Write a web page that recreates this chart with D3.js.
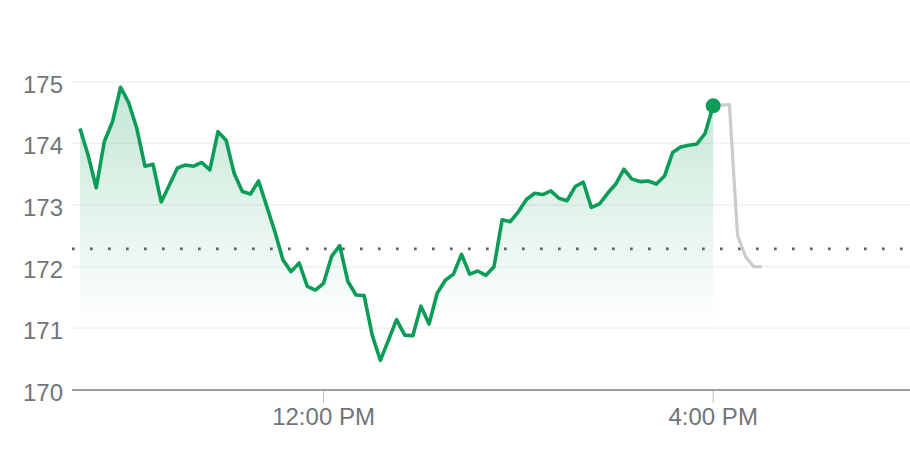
<!DOCTYPE html>
<html>
<head>
<meta charset="utf-8">
<script src="https://cdn.jsdelivr.net/npm/d3@7"></script>
<style>
  html, body { margin: 0; padding: 0; background: #fff; }
  svg { display: block; font-family: Arial, "Liberation Sans", sans-serif; }
</style>
</head>
<body>
<svg id="chart" width="910" height="460"></svg>
<script>
// ---- data (5-minute intervals) ----
const sessionStart = "09:30";
const stepMinutes = 5;
const regularValues = [
  174.24, 173.81, 173.28, 174.03, 174.35, 174.91, 174.66, 174.24, 173.63, 173.66,
  173.05, 173.32, 173.60, 173.65, 173.63, 173.69, 173.57, 174.19, 174.05, 173.51,
  173.22, 173.18, 173.39, 172.98, 172.57, 172.11, 171.92, 172.06, 171.68, 171.62,
  171.73, 172.17, 172.34, 171.76, 171.54, 171.53, 170.89, 170.48, 170.81, 171.14,
  170.89, 170.88, 171.36, 171.07, 171.57, 171.78, 171.88, 172.20, 171.88, 171.93,
  171.86, 172.00, 172.76, 172.73, 172.89, 173.09, 173.19, 173.17, 173.23, 173.11,
  173.07, 173.30, 173.37, 172.96, 173.02, 173.19, 173.34, 173.58, 173.42, 173.38,
  173.39, 173.34, 173.47, 173.85, 173.94, 173.97, 173.99, 174.16, 174.61
];
const afterHoursStart = "16:00";
const afterHoursValues = [174.61, 174.62, 174.63, 172.51, 172.16, 172.00, 172.00];
const previousClose = 172.29;
const yTicks = [170, 171, 172, 173, 174, 175];
const xTickTimes = ["12:00", "16:00"];
const xDomainTimes = ["09:30", "18:00"];

// ---- helpers ----
const parseT = d3.timeParse("%H:%M");
function series(start, vals) {
  const t0 = parseT(start);
  return vals.map((v, i) => ({ t: d3.timeMinute.offset(t0, i * stepMinutes), v }));
}
const regular = series(sessionStart, regularValues);
const after = series(afterHoursStart, afterHoursValues);

const svg = d3.select("#chart");
const gridLeft = 72, gridRight = 910;

const x = d3.scaleTime()
  .domain(xDomainTimes.map(parseT))
  .range([80, 908]);
const y = d3.scaleLinear()
  .domain([170, 175])
  .range([390, 81.7]);

// gradient
const defs = svg.append("defs");
const grad = defs.append("linearGradient")
  .attr("id", "fillGrad")
  .attr("gradientUnits", "userSpaceOnUse")
  .attr("x1", 0).attr("x2", 0)
  .attr("y1", y(d3.max(regularValues))).attr("y2", 326);
grad.append("stop").attr("offset", "0%").attr("stop-color", "#0f9d58").attr("stop-opacity", 0.25);
grad.append("stop").attr("offset", "100%").attr("stop-color", "#0f9d58").attr("stop-opacity", 0.0);

// grid lines
svg.append("g").selectAll("line")
  .data(yTicks.filter(d => d !== 170))
  .join("line")
  .attr("x1", gridLeft).attr("x2", gridRight)
  .attr("y1", d => y(d)).attr("y2", d => y(d))
  .attr("stroke", "#f1f1f1")
  .attr("stroke-width", 1.5);

// y labels
svg.append("g").selectAll("text")
  .data(yTicks)
  .join("text")
  .attr("x", 63)
  .attr("y", d => y(d) + 11)
  .attr("text-anchor", "end")
  .attr("font-size", 24)
  .attr("fill", "#70757a")
  .text(d => d);

// area fill
const area = d3.area()
  .x(d => x(d.t))
  .y0(326)
  .y1(d => y(d.v));
svg.append("path")
  .datum(regular)
  .attr("d", area)
  .attr("fill", "url(#fillGrad)");

// previous close dotted line
svg.append("line")
  .attr("x1", gridLeft).attr("x2", gridRight)
  .attr("y1", y(previousClose)).attr("y2", y(previousClose))
  .attr("stroke", "#5f6368")
  .attr("stroke-width", 2.7)
  .attr("stroke-dasharray", "2.7 15.3");

// x axis baseline
svg.append("line")
  .attr("x1", gridLeft).attr("x2", gridRight)
  .attr("y1", 390).attr("y2", 390)
  .attr("stroke", "#9e9e9e")
  .attr("stroke-width", 2);

// x ticks and labels
const xt = svg.append("g").selectAll("g")
  .data(xTickTimes.map(parseT))
  .join("g")
  .attr("transform", d => `translate(${x(d)},0)`);
xt.append("line")
  .attr("y1", 391).attr("y2", 403)
  .attr("stroke", "#bdbdbd")
  .attr("stroke-width", 1);
xt.append("text")
  .attr("y", 425)
  .attr("text-anchor", "middle")
  .attr("font-size", 24)
  .attr("fill", "#70757a")
  .text(d => d3.timeFormat("%-I:%M %p")(d));

// lines
const line = d3.line().x(d => x(d.t)).y(d => y(d.v));
svg.append("path")
  .datum(after)
  .attr("d", line)
  .attr("fill", "none")
  .attr("stroke", "#cccccc")
  .attr("stroke-width", 3.2)
  .attr("stroke-linejoin", "round");
svg.append("path")
  .datum(regular)
  .attr("d", line)
  .attr("fill", "none")
  .attr("stroke", "#0b9d58")
  .attr("stroke-width", 3.6)
  .attr("stroke-linejoin", "round");

// last point dot
const last = regular[regular.length - 1];
svg.append("circle")
  .attr("cx", x(last.t))
  .attr("cy", y(last.v))
  .attr("r", 7.5)
  .attr("fill", "#0b9d58");
</script>
</body>
</html>
